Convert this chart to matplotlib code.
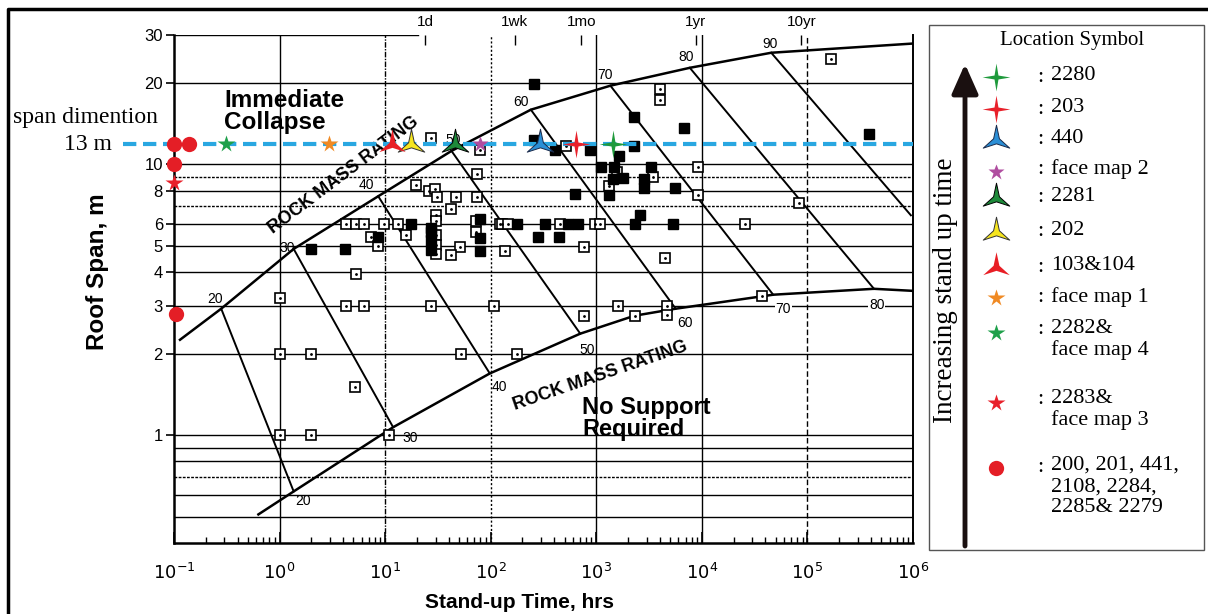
import numpy as np
import matplotlib.pyplot as plt
from matplotlib.path import Path
from matplotlib.ticker import NullLocator, LogLocator, NullFormatter

# ---- case histories (stand-up time in hrs, roof span in m) ----
open_t = [5.3, 1.0, 4.3, 6.3, 27, 107, 770, 1590, 2350, 4640, 4640, 1.0, 2.0, 52, 177,
          5.2, 1.0, 2.0, 10.9, 37200, 27.4, 78.5, 73.6, 19.7, 26.2, 29.9, 31.3, 47.4,
          73.6, 42.5, 4.26, 5.3, 6.3, 9.8, 13.3, 7.4, 8.6, 15.8, 30, 30, 30, 30, 30,
          50.7, 42.5, 72, 72, 122, 3980, 3980, 518, 1585, 3410, 1330, 9160, 9160, 127,
          145, 454, 977, 1092, 136, 769, 4440, 165600, 84000, 25700]
open_s = [3.94, 3.2, 3.0, 3.0, 3.0, 3.0, 2.76, 3.0, 2.76, 3.0, 2.78, 2.0, 2.0, 2.0, 2.0,
          1.5, 1.0, 1.0, 1.0, 3.27, 12.5, 11.3, 9.2, 8.4, 7.96, 8.1, 7.56, 7.56,
          7.56, 6.83, 6.0, 6.0, 6.0, 6.0, 6.0, 5.4, 5.0, 5.5, 6.5, 6.2, 5.5, 5.05, 4.65,
          4.95, 4.63, 6.2, 5.6, 6.0, 18.9, 17.3, 11.7, 9.4, 9.0, 8.3, 9.8, 7.7, 6.0,
          6.0, 6.0, 6.0, 6.0, 4.79, 4.95, 4.51, 24.5, 7.19, 6.0]
fill_t = [17.7, 8.6, 1.97, 4.16, 27, 27, 27, 27, 78.5, 78.5, 79.5, 257, 2300, 6740, 257,
          407, 877, 2300, 1656, 1117, 1479, 1445, 1807, 1330, 3270, 2860, 2860, 5530,
          631, 2620, 177, 327, 541, 674, 2350, 5300, 281, 445, 380000]
fill_s = [6.0, 5.4, 4.85, 4.85, 5.82, 5.62, 5.26, 4.83, 6.27, 5.35, 4.78, 19.7, 15.0, 13.6,
          12.25, 11.3, 11.3, 11.7, 10.7, 9.75, 9.75, 8.8, 8.87, 7.7, 9.75, 8.8, 8.2, 8.2,
          7.74, 6.48, 6.0, 6.0, 6.0, 6.0, 6.0, 6.0, 5.38, 5.38, 12.9]

# ---- rock mass rating boundaries ----
upper_t = [0.114, 0.28, 1.36, 8.6, 42.5, 240, 1360, 7690, 45400, 1.0e6]
upper_s = [2.25, 2.93, 4.87, 7.62, 11.2, 15.9, 19.5, 22.7, 25.8, 27.9]
lower_t = [0.63, 1.36, 11.9, 98, 705, 2300, 5650, 47400, 427000, 1.0e6]
lower_s = [0.51, 0.62, 1.07, 1.69, 2.37, 2.76, 2.93, 3.3, 3.47, 3.41]

rmr_values = [20, 30, 40, 50, 60, 70, 80, 90]
rmr_top_t = [0.28, 1.36, 8.6, 42.5, 240, 1360, 7690, 45400]
rmr_top_s = [2.93, 4.87, 7.62, 11.2, 15.9, 19.5, 22.7, 25.8]
rmr_bot_t = [1.36, 11.9, 98, 705, 5650, 47400, 427000, 955000]
rmr_bot_s = [0.62, 1.07, 1.69, 2.37, 2.93, 3.3, 3.47, 6.48]

top_lab_t = [0.245, 1.19, 6.6, 44.5, 193, 1220, 7050, 44500]
top_lab_s = [3.19, 4.91, 8.4, 12.3, 17.0, 21.4, 24.9, 27.9]
bot_lab_t = [1.66, 17.3, 122, 820, 6880, 59000, 454000]
bot_lab_s = [0.57, 0.975, 1.51, 2.07, 2.6, 2.93, 3.03]

# ---- observed locations ----
span_line = 11.9
site_names = ['2280', '203', '440', 'face map 2', '2281', '202', '103&104',
              'face map 1', '2282&\nface map 4', '2283&\nface map 3',
              '200, 201, 441,\n2108, 2284,\n2285& 2279']
site_t = [[1450], [646], [293], [80], [45.4], [17.7], [11.7], [2.93], [0.31], [0.1],
          [0.1, 0.139, 0.1, 0.105]]
site_s = [[span_line], [span_line], [span_line], [span_line], [span_line], [span_line],
          [span_line], [span_line], [span_line], [8.5], [span_line, span_line, 10.0, 2.8]]

time_marks = [24, 168, 720, 8760, 87600]
time_names = ['1d', '1wk', '1mo', '1yr', '10yr']


def star_marker(n, inner):
    k = np.arange(2 * n)
    ang = np.pi / 2 + k * np.pi / n
    r = np.where(k % 2 == 0, 1.0, inner)
    v = np.column_stack([r * np.cos(ang), r * np.sin(ang)])
    return Path(np.vstack([v, v[:1]]), closed=True)


star4 = star_marker(4, 0.2)
star3 = star_marker(3, 0.22)

styles = [
    dict(marker=star4, color='#1f9a3c', ms=20, mec='none'),
    dict(marker=star4, color='#e8202a', ms=20, mec='none'),
    dict(marker=star3, color='#2b8fd6', ms=22, mec='#1a2a4a', mew=0.7),
    dict(marker='*', color='#b04ea0', ms=12, mec='none'),
    dict(marker=star3, color='#1e8a3a', ms=22, mec='black', mew=0.7),
    dict(marker=star3, color='#f6e51e', ms=22, mec='#333333', mew=0.7),
    dict(marker=star3, color='#e81e25', ms=22, mec='none'),
    dict(marker='*', color='#f08a24', ms=13, mec='none'),
    dict(marker='*', color='#1ea04a', ms=13, mec='none'),
    dict(marker='*', color='#e8202a', ms=13, mec='none'),
    dict(marker='o', color='#e41e26', ms=11, mec='none'),
]

sans = ['Liberation Sans', 'DejaVu Sans']
serif = ['Liberation Serif', 'DejaVu Serif']
plt.rcParams['font.family'] = sans

fig = plt.figure(figsize=(12.08, 6.14), dpi=100)
ax = fig.add_axes([174 / 1208, 1 - 543 / 614, 739 / 1208, 508 / 614])
ax.set_xscale('log')
ax.set_yscale('log')
ax.set_xlim(0.1, 1e6)
ax.set_ylim(0.4, 30)

# chart grid
for v in [0.5, 0.6, 0.8, 0.9, 1, 2, 3, 4, 5, 6, 8, 10, 20]:
    ax.axhline(v, color='black', lw=1.0, zorder=1)
for v in [0.7, 7, 9]:
    ax.axhline(v, color='black', lw=1.0, ls=(0, (2, 1)), zorder=1)
ax.axhline(30, xmax=0.33, color='black', lw=1.0, zorder=1)
for v, ls in [(1, '-'), (10, (0, (4, 1, 1, 1))), (100, (0, (1.5, 1.5))),
              (1000, '-'), (1e4, '-'), (1e5, (0, (4, 2)))]:
    ax.axvline(v, color='black', lw=1.0, ls=ls, zorder=1)

# RMR boundaries and rating lines
ax.plot(upper_t, upper_s, color='black', lw=1.8, zorder=2)
ax.plot(lower_t, lower_s, color='black', lw=1.8, zorder=2)
for i in range(len(rmr_values)):
    ax.plot([rmr_top_t[i], rmr_bot_t[i]], [rmr_top_s[i], rmr_bot_s[i]],
            color='black', lw=1.4, zorder=2)
for i, v in enumerate(rmr_values):
    ax.text(top_lab_t[i], top_lab_s[i], str(v), fontsize=10, ha='center', va='center', zorder=3)
for i, v in enumerate(rmr_values[:-1]):
    ax.text(bot_lab_t[i], bot_lab_s[i], str(v), fontsize=10, ha='center', va='center', zorder=3,
            bbox=dict(fc='white', ec='none', pad=0.5) if v >= 70 else None)

# case histories
ax.plot(open_t, open_s, 's', ms=6.5, mfc='white', mec='black', mew=1.2, zorder=4)
ax.plot(open_t, open_s, '.', ms=2, color='black', zorder=5)
ax.plot(fill_t, fill_s, 's', ms=6.5, color='black', zorder=4)

# region texts
ax.text(0.30, 19.0, 'Immediate\nCollapse', fontsize=17.5, fontweight='bold', ha='left',
        va='top', linespacing=0.95, zorder=3)
ax.text(731, 1.40, 'No Support\nRequired', fontsize=17, fontweight='bold', ha='left',
        va='top', linespacing=0.95, zorder=3)
ax.text(4.0, 9.1, 'ROCK MASS RATING', fontsize=13, fontweight='bold', rotation=37,
        ha='center', va='center', zorder=3)
ax.text(1080, 1.66, 'ROCK MASS RATING', fontsize=13, fontweight='bold', rotation=19,
        ha='center', va='center', zorder=3)

# span level and observed locations
ax.plot([0.033, 1e6], [span_line, span_line], color='#29a7e1', lw=3, ls=(0, (3.2, 1.6)),
        clip_on=False, zorder=6)
for ts, ss, st in zip(site_t, site_s, styles):
    ax.plot(ts, ss, ls='none', clip_on=False, zorder=7, **st)

# axes styling
for side in ['left', 'bottom']:
    ax.spines[side].set_linewidth(1.8)
ax.spines['right'].set_linewidth(1.4)
ax.spines['top'].set_visible(False)
ax.set_yticks([1, 2, 3, 4, 5, 6, 8, 10, 20, 30])
ax.set_yticklabels(['1', '2', '3', '4', '5', '6', '8', '10', '20', '30'])
ax.yaxis.set_minor_locator(NullLocator())
ax.tick_params(axis='y', direction='out', length=6, width=1.2, labelsize=12, pad=2)
ax.set_xticks([10.0 ** k for k in range(-1, 7)])
ax.set_xticklabels(['$10^{%d}$' % k for k in range(-1, 7)])
ax.xaxis.set_minor_locator(LogLocator(base=10, subs=np.arange(2, 10)))
ax.xaxis.set_minor_formatter(NullFormatter())
ax.tick_params(axis='x', which='major', direction='in', length=8, width=1.2, labelsize=13, pad=14)
ax.tick_params(axis='x', which='minor', direction='in', length=4, width=1.0)
ax.set_ylabel('Roof Span, m', fontsize=17.5, fontweight='bold')
ax.yaxis.set_label_coords(-0.088, 0.535)
ax.set_xlabel('Stand-up Time, hrs', fontsize=15, fontweight='bold')
ax.xaxis.set_label_coords(0.468, -0.098)

top = ax.secondary_xaxis('top')
top.set_xticks(time_marks)
top.set_xticklabels(time_names)
top.xaxis.set_minor_locator(NullLocator())
top.tick_params(direction='in', length=7, width=1.0, labelsize=11, pad=4)
top.spines['top'].set_visible(False)

# overlay in pixel space: frame, side notes and legend
ov = fig.add_axes([0, 0, 1, 1], facecolor='none')
ov.set_xlim(0, 1208)
ov.set_ylim(614, 0)
ov.axis('off')
ov.plot([8, 8, 1208], [614, 9, 9], color='black', lw=2.5)
ov.text(13, 118, 'span dimention', family=serif, fontsize=17, ha='left', va='center')
ov.text(112, 145, '13 m', family=serif, fontsize=17, ha='right', va='center')

ov.add_patch(plt.Rectangle((929, 25), 275, 525, fc='white', ec='#555555', lw=1))
ov.text(1072, 41, 'Location Symbol', family=serif, fontsize=15, ha='center', va='center')
ov.annotate('', xy=(965, 64), xytext=(965, 546),
            arrowprops=dict(arrowstyle='-|>,head_length=0.9,head_width=0.4', lw=3.5,
                            color='#1a1010', mutation_scale=20, shrinkA=0, shrinkB=0))
ov.text(946, 290, 'Increasing stand up time', family=serif, fontsize=19.5, rotation=90,
        ha='center', va='center')
row_y = [77, 109, 140, 170, 198, 232, 267, 298, 330, 400, 467]
mark_y = [77, 109, 140, 172, 198, 232, 267, 298, 333, 403, 468]
for name, y, my, st in zip(site_names, row_y, mark_y, styles):
    ov.plot([996], [my], ls='none', **st)
    ov.text(1038, y, ': ', family=serif, fontsize=16, ha='left', va='center')
    ov.text(1051, y - 11, name, family=serif, fontsize=16, ha='left', va='top',
            linespacing=1.15)

fig.savefig('out.png', dpi=100)
